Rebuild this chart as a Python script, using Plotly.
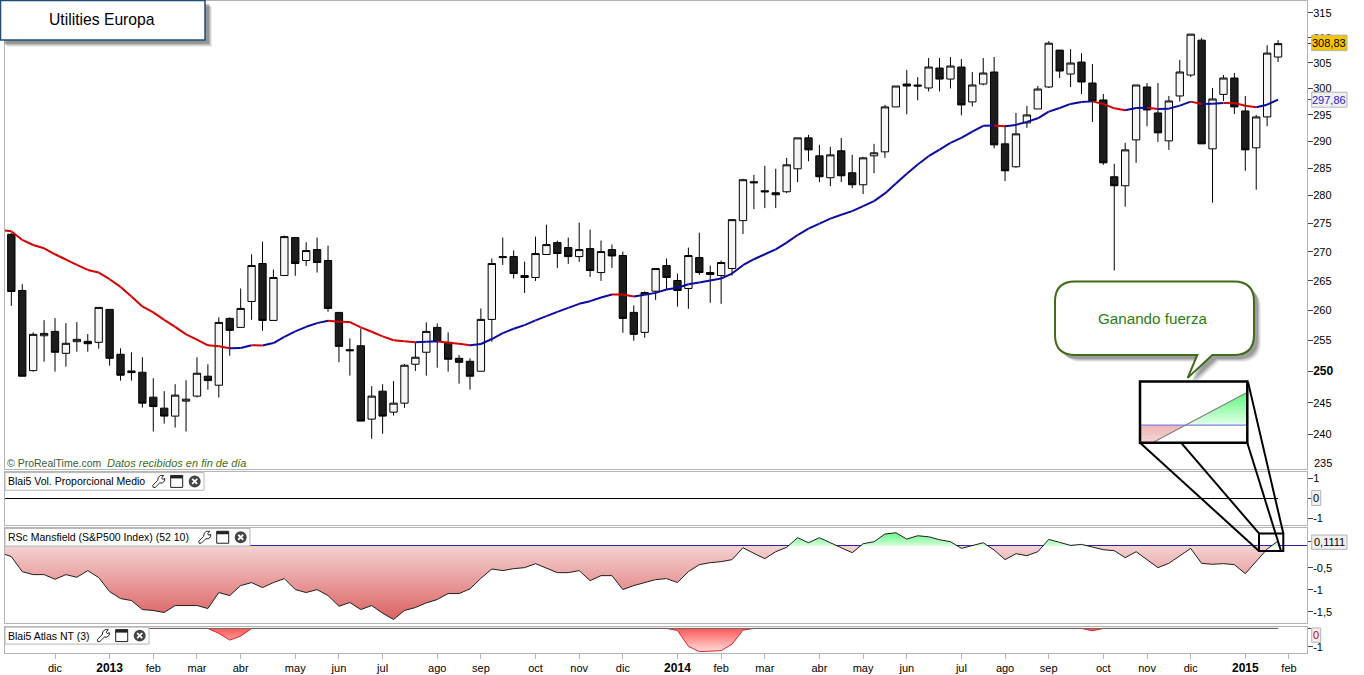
import plotly.graph_objects as go
from plotly.subplots import make_subplots

WIDTH = 1364
HEIGHT = 675

# weekly bars, first one at index 0
open_p = [273.10, 263.38, 250.11, 255.80, 256.52, 252.92, 254.82, 254.88, 254.72, 260.18,
          252.76, 250.06, 249.85, 245.87, 244.13, 242.88, 245.24, 246.03, 249.21, 247.77,
          258.68, 257.18, 261.52, 268.00, 258.34, 265.93, 272.52, 268.52, 270.42, 268.52,
          259.68, 253.51, 254.16, 242.41, 246.82, 243.50, 244.92, 251.14, 253.09, 257.18,
          254.72, 252.11, 251.62, 250.01, 258.51, 269.20, 269.20, 265.59, 265.59, 269.56,
          271.64, 270.77, 269.20, 270.59, 266.44, 270.42, 269.38, 259.68, 256.36, 263.26,
          267.65, 265.08, 263.72, 269.03, 266.44, 265.93, 267.13, 275.51, 282.51, 280.87,
          280.51, 280.69, 284.88, 290.62, 287.27, 283.24, 288.20, 284.15, 281.96, 287.27,
          288.01, 296.48, 300.89, 300.70, 300.12, 304.00, 301.85, 304.20, 297.43, 300.89,
          303.23, 289.50, 285.25, 293.44, 296.09, 300.31, 307.54, 302.83, 305.18, 301.08,
          297.81, 283.42, 281.78, 290.24, 300.31, 295.33, 290.06, 298.58, 302.64, 309.52,
          288.57, 298.88, 302.05, 295.71, 288.76, 294.57, 306.17]
close_p = [263.21, 249.21, 256.03, 256.19, 253.09, 254.56, 255.21, 254.49, 260.52, 252.11,
           249.37, 249.79, 244.92, 244.38, 242.88, 246.19, 245.55, 249.69, 248.51, 258.01,
           256.69, 260.35, 267.65, 258.34, 265.59, 272.69, 268.00, 270.25, 268.17, 260.35,
           254.06, 253.35, 242.10, 246.03, 242.88, 244.92, 250.98, 252.28, 256.52, 254.82,
           251.95, 251.46, 249.21, 258.51, 268.00, 269.03, 266.27, 265.93, 269.73, 271.29,
           269.73, 269.20, 270.42, 266.79, 270.07, 269.31, 258.68, 256.03, 263.04, 267.13,
           265.59, 263.38, 269.38, 266.44, 266.10, 268.17, 275.69, 282.88, 282.33, 280.69,
           280.15, 285.61, 290.62, 288.38, 283.42, 287.45, 283.60, 281.96, 286.90, 287.83,
           296.48, 300.50, 300.50, 300.50, 304.20, 301.85, 304.40, 296.86, 300.70, 303.03,
           289.31, 284.51, 291.37, 294.95, 299.92, 308.92, 303.42, 304.99, 301.28, 297.62,
           285.98, 281.78, 288.38, 300.70, 295.90, 291.56, 297.62, 303.23, 310.72, 289.50,
           298.00, 302.05, 296.48, 288.38, 294.57, 306.95, 308.83]
high_p = [273.30, 264.45, 256.36, 258.39, 258.73, 257.89, 258.06, 256.08, 260.52, 260.18,
          253.73, 253.08, 252.28, 248.89, 246.82, 247.93, 248.57, 252.28, 251.14, 258.84,
          258.84, 263.72, 269.60, 271.82, 266.96, 272.87, 272.52, 271.70, 272.52, 271.11,
          259.68, 255.37, 257.01, 247.61, 247.93, 248.41, 251.19, 254.72, 258.01, 257.84,
          256.36, 252.65, 252.11, 260.35, 268.86, 272.52, 270.30, 268.34, 272.69, 274.80,
          272.00, 272.52, 275.15, 273.92, 272.00, 271.29, 270.07, 260.85, 263.21, 267.13,
          268.86, 266.27, 270.77, 273.39, 267.65, 268.52, 275.69, 283.06, 283.78, 285.43,
          284.88, 286.90, 290.62, 291.18, 289.31, 288.94, 290.62, 287.45, 287.08, 289.50,
          296.86, 300.50, 303.61, 302.24, 305.97, 305.97, 306.17, 305.77, 303.23, 305.97,
          306.17, 293.00, 295.33, 296.67, 300.50, 309.32, 307.54, 307.74, 306.95, 304.80,
          298.96, 285.80, 289.69, 300.70, 301.08, 301.08, 298.58, 305.57, 310.72, 309.92,
          300.12, 302.64, 303.03, 298.58, 294.95, 308.52, 309.52]
low_p = [260.78, 249.21, 249.95, 251.56, 249.95, 250.75, 253.18, 253.18, 253.67, 250.91,
         248.51, 248.51, 244.22, 240.48, 241.72, 241.10, 240.48, 245.81, 247.07, 245.81,
         252.53, 257.18, 258.44, 256.62, 258.34, 265.93, 265.87, 267.58, 266.44, 259.78,
         251.47, 249.31, 242.10, 239.36, 240.13, 242.97, 244.18, 250.06, 249.31, 250.59,
         249.95, 248.03, 247.07, 250.01, 254.82, 267.75, 265.42, 262.97, 265.01, 269.56,
         267.23, 267.93, 268.27, 265.69, 265.01, 267.23, 256.29, 254.98, 255.47, 261.79,
         263.55, 260.65, 260.28, 266.03, 261.29, 261.12, 265.93, 273.15, 277.57, 277.75,
         277.75, 280.44, 282.44, 286.28, 282.44, 281.71, 282.44, 281.35, 280.26, 284.08,
         286.90, 296.48, 295.07, 297.74, 299.46, 299.46, 300.04, 294.88, 296.59, 300.62,
         288.68, 282.62, 285.06, 292.50, 296.09, 300.12, 302.05, 300.31, 298.97, 293.63,
         285.61, 266.79, 278.00, 285.98, 292.80, 289.87, 288.38, 297.54, 302.24, 289.50,
         278.72, 297.62, 295.14, 284.51, 281.06, 292.80, 305.18]

# the indicators start one bar earlier, off the left edge
ma_values = [273.88, 273.62, 272.10, 271.22, 270.64, 269.60, 268.69, 267.75, 266.89, 266.44,
             265.30, 263.99, 262.37, 260.68, 259.68, 258.44, 257.28, 256.03, 255.15, 254.23,
             254.06, 253.75, 253.78, 254.23, 254.20, 254.60, 255.63, 256.52, 257.28, 257.89,
             258.28, 258.11, 258.06, 257.18, 256.46, 255.70, 255.05, 254.88, 254.72, 254.82,
             254.88, 254.65, 254.49, 254.23, 254.44, 255.26, 256.24, 256.95, 257.56, 258.34,
             259.06, 259.78, 260.45, 261.12, 261.57, 262.20, 262.70, 262.69, 262.37, 262.64,
             262.97, 263.55, 263.85, 264.45, 264.74, 265.08, 265.42, 266.27, 267.70, 268.74,
             269.60, 270.47, 271.64, 272.97, 274.09, 274.98, 275.86, 276.57, 277.21, 278.11,
             279.00, 280.39, 282.20, 283.97, 285.67, 287.20, 288.44, 289.68, 290.62, 291.80,
             292.88, 292.93, 292.80, 293.06, 293.63, 294.31, 295.58, 296.28, 297.05, 297.43,
             297.54, 297.05, 296.21, 295.83, 296.28, 296.34, 296.09, 296.15, 296.72, 297.49,
             297.05, 297.10, 297.24, 297.24, 296.72, 296.40, 296.91, 297.86]

rs_values = [-0.155, -0.246, -0.587, -0.655, -0.655, -0.761, -0.655, -0.716, -0.564, -0.723,
             -1.042, -1.201, -1.246, -1.451, -1.473, -1.519, -1.360, -1.360, -1.360, -1.428,
             -1.064, -1.133, -0.905, -0.837, -0.951, -0.837, -0.746, -0.996, -1.064, -0.996,
             -1.133, -1.375, -1.292, -1.451, -1.360, -1.534, -1.678, -1.473, -1.405, -1.299,
             -1.223, -1.087, -1.087, -0.981, -0.739, -0.527, -0.564, -0.519, -0.496, -0.405,
             -0.511, -0.610, -0.610, -0.564, -0.792, -0.678, -0.678, -0.996, -0.905, -0.837,
             -0.769, -0.746, -0.837, -0.587, -0.428, -0.383, -0.360, -0.314, -0.042, -0.170,
             -0.292, -0.133, -0.034, 0.186, 0.072, 0.186, 0.080, -0.042, -0.155, 0.049,
             0.095, 0.269, 0.299, 0.155, 0.231, 0.208, 0.140, 0.095, -0.057, 0.004,
             0.072, -0.095, -0.314, -0.178, -0.223, -0.133, 0.148, 0.080, 0.011, 0.034,
             -0.019, -0.087, -0.110, -0.269, -0.133, -0.314, -0.496, -0.398, -0.223, -0.057,
             -0.398, -0.420, -0.405, -0.428, -0.633, -0.360, -0.072, 0.1111]

atlas_values = [0] * 19 + [0, -0.27, -0.64, -0.42, 0] + [0] * 37 + [
    0, -0.11, -0.98, -1.27, -1.24, -1.22, -0.86, -0.09, 0] + [0] * 29 + [0, -0.13, 0] + [0] * 16

vol_values = [0] * 118

x_tick_pos = [4, 9, 13, 17, 21, 26, 30, 34, 39, 43, 48, 52, 56, 61, 65, 69, 74, 78, 82, 87,
              91, 95, 100, 104, 108, 113, 117]
x_tick_text = ['dic', '2013', 'feb', 'mar', 'abr', 'may', 'jun', 'jul', 'ago', 'sep', 'oct',
               'nov', 'dic', '2014', 'feb', 'mar', 'abr', 'may', 'jun', 'jul', 'ago', 'sep',
               'oct', 'nov', 'dic', '2015', 'feb']
price_ticks = [315, 310, 308.83, 305, 300, 297.86, 295, 290, 285, 280, 275, 270, 265, 260, 255,
               250, 245, 240]

GRAY = '#b4b4b4'
FONT = 'Liberation Sans'


def px(x):
    return x / WIDTH


def py(y):
    return 1 - y / HEIGHT


def path_of(points, close=True):
    text = ' '.join(f'{"M" if i == 0 else "L"} {px(x):.5f} {py(y):.5f}'
                    for i, (x, y) in enumerate(points))
    return text + (' Z' if close else '')


def poly(points, fill=None, line=None, width=1, close=True):
    return dict(type='path', xref='paper', yref='paper', path=path_of(points, close), layer='above',
                fillcolor=fill or 'rgba(0,0,0,0)',
                line=dict(color=line or 'rgba(0,0,0,0)', width=width if line else 0))


def rect(x0, y0, x1, y1, fill=None, line=None, width=1):
    return dict(type='rect', xref='paper', yref='paper', layer='above',
                x0=px(x0), x1=px(x1), y0=py(y0), y1=py(y1),
                fillcolor=fill or 'rgba(0,0,0,0)',
                line=dict(color=line or 'rgba(0,0,0,0)', width=width if line else 0))


def rounded_path(x0, y0, x1, y1, r, dx=0, dy=0, tail=None):
    """Rounded box, with the speech bubble tail on the bottom side when given"""
    def pt(x, y):
        return f'{px(x + dx):.5f} {py(y + dy):.5f}'
    d = f'M {pt(x0 + r, y0)} L {pt(x1 - r, y0)} Q {pt(x1, y0)} {pt(x1, y0 + r)} '
    d += f'L {pt(x1, y1 - r)} Q {pt(x1, y1)} {pt(x1 - r, y1)} '
    if tail:
        for x, y in tail:
            d += f'L {pt(x, y)} '
    d += f'L {pt(x0 + r, y1)} Q {pt(x0, y1)} {pt(x0, y1 - r)} '
    d += f'L {pt(x0, y0 + r)} Q {pt(x0, y0)} {pt(x0 + r, y0)} Z'
    return d


def text_note(x, y, text, size=11, color='black', anchor='left', **kwargs):
    return dict(xref='paper', yref='paper', x=px(x), y=py(y), text=text, showarrow=False,
                xanchor=anchor, yanchor='middle', font=dict(family=FONT, size=size, color=color),
                **kwargs)


def value_box(x0, x1, yc, half, text, color='black', fill='#f0f0f0'):
    shape = rect(x0, yc - half, x1, yc + half, fill=fill, line=GRAY, width=1)
    note = text_note((x0 + x1) / 2, yc, text, color=color, anchor='center', size=11)
    return shape, note


def tab_shapes(x1, y0, y1, wrench_x, window_x, close_x):
    cy = (y0 + y1) / 2
    shapes = [rect(5, y0, x1, y1, fill='white', line=GRAY, width=1)]
    jaw = [(-6, 4), (-1, -1), (-0.5, -4), (2, -6), (5, -6), (3, -3.5), (4, -2), (6, -3),
           (6, -0.5), (3.5, 1.5), (1, 1.5), (-3.5, 6), (-5.5, 6)]
    shapes.append(poly([(wrench_x + a, cy + b) for a, b in jaw], fill='white', line='#222222'))
    shapes.append(rect(window_x - 6, cy - 6, window_x + 6, cy + 6, fill='white', line='#222222'))
    shapes.append(rect(window_x - 6, cy - 6, window_x + 6, cy - 3, fill='#222222'))
    shapes.append(dict(type='circle', xref='paper', yref='paper', layer='above',
                       x0=px(close_x - 6), x1=px(close_x + 6), y0=py(cy - 6), y1=py(cy + 6),
                       fillcolor='#444444', line=dict(width=0)))
    shapes.append(poly([(close_x - 2.5, cy - 2.5), (close_x + 2.5, cy + 2.5)],
                       line='white', width=1.8, close=False))
    shapes.append(poly([(close_x - 2.5, cy + 2.5), (close_x + 2.5, cy - 2.5)],
                       line='white', width=1.8, close=False))
    return shapes


def blend(c0, c1, t):
    return 'rgb(' + ','.join(str(round(a + (b - a) * t)) for a, b in zip(c0, c1)) + ')'


def inset_shapes():
    """Magnified view of the last bars of the RS panel"""
    left, right, top, bottom = 1141, 1246.5, 383.5, 443.5
    zero_y, cross_x = 426.3, 1185.7
    peak_y, start_x = 394, 1153.3
    shapes = [rect(left, top, right, bottom, fill='white')]
    steps = 12
    for i in range(steps):
        y0 = peak_y + (zero_y - peak_y) * i / steps
        y1 = peak_y + (zero_y - peak_y) * (i + 1) / steps + 0.4
        x0 = right - (right - cross_x) * (y0 - peak_y) / (zero_y - peak_y)
        x1 = right - (right - cross_x) * (y1 - peak_y) / (zero_y - peak_y)
        shapes.append(poly([(x0, y0), (right, y0), (right, y1), (x1, y1)],
                           fill=blend((96, 248, 128), (222, 255, 228), i / (steps - 1))))
    for i in range(6):
        y0 = zero_y + (bottom - zero_y) * i / 6
        y1 = zero_y + (bottom - zero_y) * (i + 1) / 6 + 0.4
        x0 = cross_x - (cross_x - start_x) * (y0 - zero_y) / (bottom - zero_y)
        x1 = cross_x - (cross_x - start_x) * (y1 - zero_y) / (bottom - zero_y)
        shapes.append(poly([(left, y0), (x0, y0), (x1, y1), (left, y1)],
                           fill=blend((238, 184, 184), (245, 208, 208), i / 5)))
    shapes.append(poly([(left, zero_y), (right, zero_y)], line='#8080e8', width=1.2, close=False))
    shapes.append(poly([(start_x, bottom), (right, peak_y)], line='#808080', width=1.2, close=False))
    shapes.append(rect(1140, 382.7, 1247.3, 444, line='black', width=2.5))
    shapes.append(rect(1259, 535, 1283.3, 552.7, line='black', width=2))
    for a, b in [((1140, 444), (1259, 552.7)), ((1181, 444), (1259, 535)),
                 ((1247.3, 444), (1281, 552.7)), ((1248, 383), (1283.3, 535))]:
        shapes.append(poly([a, b], line='black', width=2, close=False))
    return shapes


def add_area(fig, row, x, values, sign, stops, start, stop, line=None):
    """Fill one side of zero, adding the points where the line crosses it"""
    xs, ys = [], []
    for i, val in enumerate(values):
        if i > 0 and (values[i - 1] * val) < 0:
            xs.append(x[i - 1] + (x[i] - x[i - 1]) * values[i - 1] / (values[i - 1] - val))
            ys.append(0)
        xs.append(x[i])
        ys.append(val if val * sign > 0 else 0)
    fig.add_trace(go.Scatter(x=xs, y=ys, mode='lines',
                             line=dict(width=1 if line else 0, color=line or 'rgba(0,0,0,0)'),
                             fill='tozeroy',
                             fillgradient=dict(type='vertical', colorscale=stops,
                                               start=start, stop=stop)), row, 1)


bars_x = list(range(len(open_p)))
ind_x = list(range(-1, len(open_p)))

fig = make_subplots(rows=4, cols=1, shared_xaxes=True)

fig.add_trace(go.Candlestick(
    x=bars_x, open=open_p, high=high_p, low=low_p, close=close_p,
    increasing=dict(fillcolor='#f6f6f6', line=dict(color='black', width=1)),
    decreasing=dict(fillcolor='#1c1c1c', line=dict(color='black', width=1)),
    whiskerwidth=0), 1, 1)

# moving average: red while falling, blue otherwise
red_x, red_y, blue_x, blue_y = [], [], [], []
for i in range(1, len(ma_values)):
    seg_x = [ind_x[i - 1], ind_x[i], None]
    seg_y = [ma_values[i - 1], ma_values[i], None]
    if ma_values[i] < ma_values[i - 1] or ma_values[i] == ma_values[i - 1]:
        red_x += seg_x
        red_y += seg_y
    else:
        blue_x += seg_x
        blue_y += seg_y
fig.add_trace(go.Scatter(x=blue_x, y=blue_y, mode='lines', line=dict(color='#0a0aa0', width=2)), 1, 1)
fig.add_trace(go.Scatter(x=red_x, y=red_y, mode='lines', line=dict(color='#d40000', width=2)), 1, 1)

fig.add_trace(go.Scatter(x=ind_x, y=vol_values, mode='lines',
                         line=dict(color='black', width=1)), 2, 1)

add_area(fig, 3, ind_x, rs_values, -1,
         [[0, '#da5c5c'], [1, '#f5d2d2']], -1.75, 0)
add_area(fig, 3, ind_x, rs_values, 1,
         [[0, '#d4ffdc'], [1, '#60f880']], 0, 0.32)
fig.add_trace(go.Scatter(x=ind_x, y=rs_values, mode='lines',
                         line=dict(color='#1e1e1e', width=1)), 3, 1)

add_area(fig, 4, ind_x, atlas_values, -1,
         [[0, '#ffe0e0'], [1, '#ff5858']], -1.3, 0, line='#e02020')
fig.add_trace(go.Scatter(x=ind_x, y=[0 * v for v in atlas_values], mode='lines',
                         line=dict(color='#666666', width=1)), 4, 1)

bold_years = {'2013', '2014', '2015'}
x_labels = [f'<span style="font-size:12px"><b>{t}</b></span>' if t in bold_years else t
            for t in x_tick_text]

fig.update_xaxes(range=[-0.58, 118.65], showgrid=False, zeroline=False, showline=True, mirror=True,
                 linecolor=GRAY, linewidth=1, rangeslider=dict(visible=False), ticks='',
                 showticklabels=False, domain=[px(5), px(1307)])
fig.update_xaxes(row=4, col=1, tickmode='array', tickvals=x_tick_pos, ticktext=x_labels,
                 showticklabels=True, ticks='outside', ticklen=5, tickcolor=GRAY,
                 tickfont=dict(family=FONT, size=11, color='black'))
fig.update_yaxes(showgrid=False, zeroline=False, showline=True, mirror=True, linecolor=GRAY,
                 linewidth=1, side='right', ticks='outside', ticklen=5, tickcolor='#444444',
                 tickfont=dict(family=FONT, size=11, color='black'), tickmode='array',
                 ticklabelstandoff=-2)

price_labels = ['' if p in (308.83, 297.86) else
                f'<span style="font-size:12px"><b>{p}</b></span>' if p == 250 else str(p)
                for p in price_ticks]
fig.update_yaxes(row=1, col=1, type='log', range=[2.37069, 2.50152], tickvals=price_ticks,
                 ticktext=price_labels, domain=[py(470), py(1.5)])
fig.update_yaxes(row=2, col=1, range=[-1.325, 1.325], tickvals=[1, 0, -1], ticktext=['1', '', '-1'],
                 domain=[py(526.5), py(473.5)])
fig.update_yaxes(row=3, col=1, range=[-1.761, 0.409], tickvals=[0.1111, -0.5, -1, -1.5],
                 ticktext=['', '-0,5', '-1', '-1,5'], zeroline=True, zerolinecolor='#2222bb',
                 zerolinewidth=1, domain=[py(625), py(529.5)])
fig.update_yaxes(row=4, col=1, range=[-1.322, 0.098], tickvals=[0, -1], ticktext=['', '-1'],
                 domain=[py(654.5), py(628.5)])

shapes = []
annotations = []

# tabs of the indicator panels
shapes += tab_shapes(204, 474, 491.7, 158.7, 176.7, 194.7)
shapes += tab_shapes(250, 530, 547.7, 204.7, 222.7, 240.7)
shapes += tab_shapes(149, 629, 646, 103.3, 121.7, 139.7)
annotations.append(text_note(6.2, 482.5, 'Blai5 Vol. Proporcional Medio', size=10.5))
annotations.append(text_note(6.2, 538.5, 'RSc Mansfield (S&amp;P500 Index) (52 10)', size=10.5))
annotations.append(text_note(6.2, 637.5, 'Blai5 Atlas NT (3)', size=10.5))
annotations.append(text_note(5, 464.5, '© ProRealTime.com', color='#3d5a3d', size=10.5))
annotations.append(text_note(105, 464.5, '<i>Datos recibidos en fin de día</i>', color='#3c6e14', size=11))

# title box, with its soft shadow
for off, alpha in [(7, 0.12), (6, 0.18), (5, 0.25), (4, 0.35)]:
    shapes.append(rect(off, off, 205 + off, 40 + off, fill=f'rgba(90,90,90,{alpha})'))
shapes.append(rect(0.5, 0.5, 205, 40, fill='white', line='#1f4e79', width=1.5))
annotations.append(text_note(102, 20, 'Utilities Europa', size=15.7, anchor='center'))

# speech bubble
tail = [(1212.3, 356), (1187.7, 379), (1197.3, 356)]
for off, alpha in [(7, 0.1), (6, 0.15), (5, 0.22), (4, 0.3)]:
    shapes.append(dict(type='path', xref='paper', yref='paper', layer='above', line=dict(width=0),
                       path=rounded_path(1055, 282.3, 1254, 356, 20, off, off, tail),
                       fillcolor=f'rgba(90,90,90,{alpha})'))
shapes.append(dict(type='path', xref='paper', yref='paper', layer='above', fillcolor='white',
                   line=dict(color='#3f6b1a', width=2),
                   path=rounded_path(1055, 282.3, 1254, 356, 20, tail=tail)))
annotations.append(text_note(1152.7, 319.5, 'Ganando fuerza', size=15.2, color='#2e7d12', anchor='center'))

shapes += inset_shapes()

# last-value boxes on the right scale
for args in [(1311.7, 1347, 43, 7.8, '308,83', 'black', '#f5c400'),
             (1311.7, 1347, 100, 7.5, '297,86', '#2222cc', '#f0f0f0'),
             (1311.7, 1320.7, 499.5, 7.5, '0', 'black', '#f0f0f0'),
             (1311.7, 1347, 543.8, 7.2, '0,1111', 'black', '#f0f0f0'),
             (1311.7, 1320.7, 637, 7.2, '0', '#d00000', '#f0f0f0')]:
    box, note = value_box(*args)
    shapes.append(box)
    annotations.append(note)
annotations.append(text_note(1312, 464, '235', size=11))

fig.update_layout(
    width=WIDTH, height=HEIGHT, margin=dict(l=0, r=0, t=0, b=0), autosize=False,
    paper_bgcolor='white', plot_bgcolor='white', showlegend=False,
    shapes=shapes, annotations=annotations,
    boxgap=0.2, boxgroupgap=0.16,
)

fig.write_html("out.html", config=dict(displayModeBar=False),
               post_script="document.body.style.margin='0';")
